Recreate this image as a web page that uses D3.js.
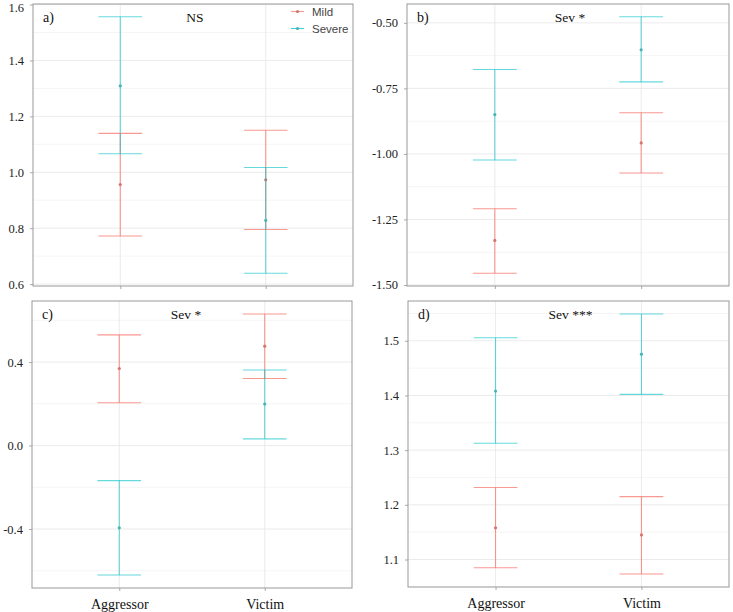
<!DOCTYPE html>
<html>
<head>
<meta charset="utf-8">
<script src="https://cdn.jsdelivr.net/npm/d3@7"></script>
<style>
  html, body { margin: 0; padding: 0; background: #fff; }
  svg { display: block; }
  svg text.serif { font-family: "Liberation Serif", "Times New Roman", Times, "DejaVu Serif", serif; }
  svg text.sans { font-family: "Liberation Sans", Arial, Helvetica, sans-serif; }
</style>
</head>
<body>
<svg id="chart" width="733" height="612"></svg>
<script>
// ---------------- data ----------------
const categories = ["Aggressor", "Victim"];
const seriesNames = ["Mild", "Severe"];
const seriesColors = ["#F8766D", "#00BFC4"];
const pointColors = ["#d8756f", "#47b3b5"];

const panelLabels = ["a)", "b)", "c)", "d)"];
const panelTitles = ["NS", "Sev *", "Sev *", "Sev ***"];

// each: [Aggressor, Victim]
const aMildMean = [0.956, 0.973], aMildLow = [0.772, 0.795], aMildHigh = [1.139, 1.150];
const aSevMean  = [1.309, 0.828], aSevLow  = [1.066, 0.639], aSevHigh  = [1.556, 1.017];

const bMildMean = [-1.330, -0.958], bMildLow = [-1.455, -1.073], bMildHigh = [-1.209, -0.843];
const bSevMean  = [-0.850, -0.603], bSevLow  = [-1.023, -0.725], bSevHigh  = [-0.678, -0.477];

const cMildMean = [0.369, 0.476], cMildLow = [0.205, 0.321], cMildHigh = [0.530, 0.630];
const cSevMean  = [-0.394, 0.199], cSevLow  = [-0.620, 0.032], cSevHigh  = [-0.168, 0.362];

const dMildMean = [1.158, 1.145], dMildLow = [1.085, 1.0735], dMildHigh = [1.2316, 1.215];
const dSevMean  = [1.408, 1.4755], dSevLow  = [1.3125, 1.402], dSevHigh  = [1.5055, 1.549];

const aTicks = [0.6, 0.8, 1.0, 1.2, 1.4, 1.6];
const bTicks = [-1.50, -1.25, -1.00, -0.75, -0.50];
const cTicks = [-0.4, 0.0, 0.4];
const dTicks = [1.1, 1.2, 1.3, 1.4, 1.5];
const aTickLabels = ["0.6", "0.8", "1.0", "1.2", "1.4", "1.6"];
const bTickLabels = ["-1.50", "-1.25", "-1.00", "-0.75", "-0.50"];
const cTickLabels = ["-0.4", "0.0", "0.4"];
const dTickLabels = ["1.1", "1.2", "1.3", "1.4", "1.5"];

// ---------------- layout ----------------
const boxes = [
  { left: 33,  right: 353, top: 4,   bottom: 286 },
  { left: 407, right: 729, top: 4,   bottom: 286 },
  { left: 32,  right: 352, top: 301, bottom: 588 },
  { left: 408, right: 729, top: 301, bottom: 587 }
];

const panels = [
  { mean: [aMildMean, aSevMean], low: [aMildLow, aSevLow], high: [aMildHigh, aSevHigh], ticks: aTicks, tickLabels: aTickLabels },
  { mean: [bMildMean, bSevMean], low: [bMildLow, bSevLow], high: [bMildHigh, bSevHigh], ticks: bTicks, tickLabels: bTickLabels },
  { mean: [cMildMean, cSevMean], low: [cMildLow, cSevLow], high: [cMildHigh, cSevHigh], ticks: cTicks, tickLabels: cTickLabels },
  { mean: [dMildMean, dSevMean], low: [dMildLow, dSevLow], high: [dMildHigh, dSevHigh], ticks: dTicks, tickLabels: dTickLabels }
];

const svg = d3.select("#chart");

panels.forEach((p, i) => {
  const b = boxes[i];
  const lows = p.low.flat(), highs = p.high.flat();
  const mn = d3.min(lows), mx = d3.max(highs);
  const pad = (mx - mn) * 0.05;
  const y = d3.scaleLinear().domain([mn - pad, mx + pad]).range([b.bottom, b.top]);
  const x = d3.scalePoint().domain(categories).range([b.left, b.right]).padding(0.6);
  const step = x.step();

  const g = svg.append("g");

  // minor grid
  const majorStep = p.ticks[1] - p.ticks[0];
  const minorVals = [];
  for (let k = -3; k < p.ticks.length + 3; k++) {
    const v = p.ticks[0] + (k + 0.5) * majorStep;
    if (v > y.domain()[0] && v < y.domain()[1]) minorVals.push(v);
  }
  g.selectAll(".minor").data(minorVals).join("line")
    .attr("x1", b.left).attr("x2", b.right)
    .attr("y1", d => y(d)).attr("y2", d => y(d))
    .attr("stroke", "#f1f1f1").attr("stroke-width", 0.7);

  // major grid
  g.selectAll(".major").data(p.ticks).join("line")
    .attr("x1", b.left).attr("x2", b.right)
    .attr("y1", d => y(d)).attr("y2", d => y(d))
    .attr("stroke", "#e6e6e6").attr("stroke-width", 0.8);
  g.selectAll(".vgrid").data(categories).join("line")
    .attr("x1", d => x(d)).attr("x2", d => x(d))
    .attr("y1", b.top).attr("y2", b.bottom)
    .attr("stroke", "#e6e6e6").attr("stroke-width", 0.8);

  // y axis
  const yAxis = d3.axisLeft(y).tickValues(p.ticks)
    .tickFormat((d, k) => p.tickLabels[k]).tickSize(3).tickPadding(6);
  const ya = g.append("g").attr("transform", `translate(${b.left},0)`).call(yAxis)
    .attr("font-family", null).attr("font-size", null);
  ya.select(".domain").remove();
  ya.selectAll(".tick line").attr("stroke", "#aaa");
  ya.selectAll(".tick text").attr("class", "serif").attr("fill", "#222").attr("font-size", "12.5px")
    .attr("y", d => (y(d) < 7 ? 7 - y(d) : 0));

  // x axis
  const xAxis = d3.axisBottom(x).tickSize(3).tickPadding(8)
    .tickFormat(i >= 2 ? (d => d) : (() => ""));
  const xa = g.append("g").attr("transform", `translate(0,${b.bottom})`).call(xAxis)
    .attr("font-family", null).attr("font-size", null);
  xa.select(".domain").remove();
  xa.selectAll(".tick line").attr("stroke", "#aaa");
  xa.selectAll(".tick text").attr("class", "serif").attr("fill", "#111").attr("font-size", "14px");

  // error bars
  seriesNames.forEach((s, si) => {
    const rows = categories.map((c, ci) => ({ c, m: p.mean[si][ci], lo: p.low[si][ci], hi: p.high[si][ci] }));
    const sg = g.append("g");
    const col = seriesColors[si];
    const op = si === 0 ? 0.75 : 0.6;
    sg.selectAll(".v").data(rows).join("line")
      .attr("x1", d => x(d.c)).attr("x2", d => x(d.c))
      .attr("y1", d => y(d.lo)).attr("y2", d => y(d.hi))
      .attr("stroke", col).attr("stroke-opacity", op).attr("stroke-width", 1.1);
    ["lo", "hi"].forEach(k => {
      sg.selectAll(".cap" + k).data(rows).join("line")
        .attr("x1", d => x(d.c) - step * 0.15).attr("x2", d => x(d.c) + step * 0.15)
        .attr("y1", d => y(d[k])).attr("y2", d => y(d[k]))
        .attr("stroke", col).attr("stroke-opacity", op).attr("stroke-width", 1.1);
    });
    sg.selectAll("circle").data(rows).join("circle")
      .attr("cx", d => x(d.c)).attr("cy", d => y(d.m)).attr("r", 1.6)
      .attr("fill", pointColors[si]);
  });

  // border
  g.append("rect").attr("x", b.left).attr("y", b.top)
    .attr("width", b.right - b.left).attr("height", b.bottom - b.top)
    .attr("fill", "none").attr("stroke", "#999").attr("stroke-width", 1);

  // labels
  g.append("text").attr("class", "serif").attr("x", b.left + 10).attr("y", b.top + 18)
    .attr("font-size", "14px").attr("fill", "#111")
    .text(panelLabels[i]);
  g.append("text").attr("class", "serif").attr("x", (b.left + b.right) / 2 + (i === 2 ? -6 : 2)).attr("y", b.top + 18)
    .attr("text-anchor", "middle")
    .attr("font-size", "13.5px").attr("fill", "#111")
    .text(panelTitles[i]);

  // legend in panel a
  if (i === 0) {
    const lg = g.append("g");
    const lx = b.right - 62;
    seriesNames.forEach((s, si) => {
      const ly = b.top + 7.5 + si * 17;
      lg.append("line").attr("x1", lx).attr("x2", lx + 13).attr("y1", ly).attr("y2", ly)
        .attr("stroke", seriesColors[si]).attr("stroke-opacity", 0.75).attr("stroke-width", 1.1);
      lg.append("circle").attr("cx", lx + 6.5).attr("cy", ly).attr("r", 1.6).attr("fill", pointColors[si]);
      lg.append("text").attr("class", "sans").attr("x", lx + 21).attr("y", ly).attr("dy", "0.36em")
        .attr("font-size", "11.5px").attr("fill", "#444")
        .text(s);
    });
  }
});
</script>
</body>
</html>
